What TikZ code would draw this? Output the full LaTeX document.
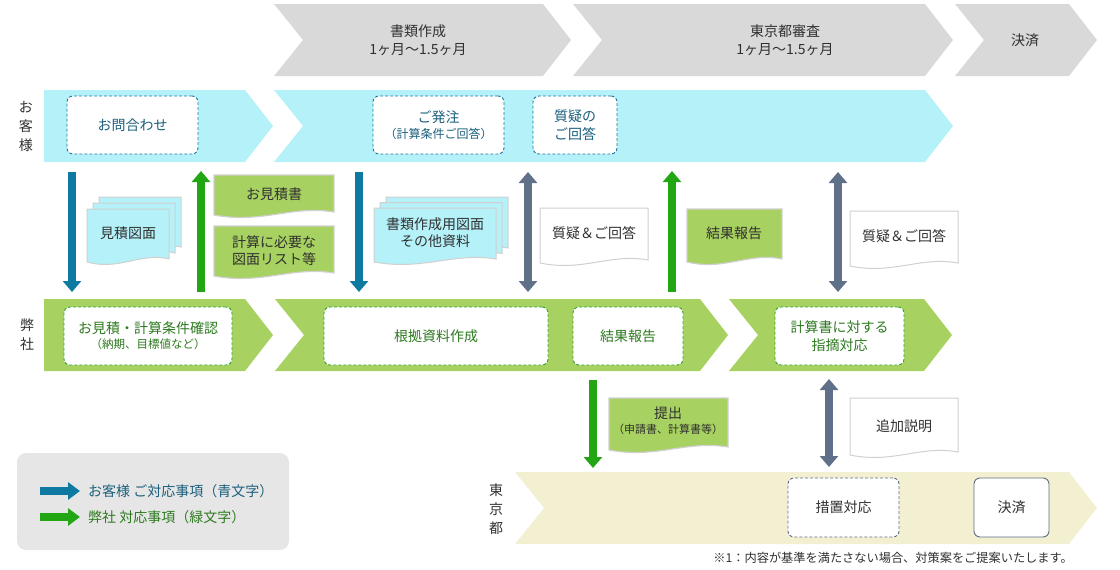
\documentclass[tikz,border=0pt]{standalone}
\usepackage{fontspec}
\setmainfont{Noto Sans CJK JP}
\usetikzlibrary{arrows.meta}
\definecolor{cgray}{HTML}{D9D9D9}
\definecolor{cbband}{HTML}{B5F1F8}
\definecolor{cgband}{HTML}{A7D160}
\definecolor{cyband}{HTML}{F3F0D2}
\definecolor{cbdash}{HTML}{1A779C}
\definecolor{tblue}{HTML}{1B5F7D}
\definecolor{cgdash}{HTML}{30A530}
\definecolor{tgreen}{HTML}{2E7A20}
\definecolor{abl}{HTML}{0E7AA2}
\definecolor{agr}{HTML}{22A614}
\definecolor{agy}{HTML}{607088}
\definecolor{ctdash}{HTML}{5E6D86}
\definecolor{tmain}{HTML}{303030}
\definecolor{cdocb}{HTML}{D0D0D0}
\definecolor{clegend}{HTML}{E6E6E6}
\newcommand{\chevflat}[5]{\fill[#1] (#2,#4) -- ({#3-28},#4) -- (#3,{(#4+#5)/2}) -- ({#3-28},#5) -- (#2,#5) -- cycle;}
\newcommand{\chevnotch}[5]{\fill[#1] (#2,#4) -- ({#3-28},#4) -- (#3,{(#4+#5)/2}) -- ({#3-28},#5) -- (#2,#5) -- ({#2+29},{(#4+#5)/2}) -- cycle;}
\newcommand{\docshape}[5]{\filldraw[#1] (#2,#3) -- ({#2+#4},#3) -- ({#2+#4},{#3+#5-3}) .. controls ({#2+0.65*#4},{#3+#5-10}) and ({#2+0.4*#4},{#3+#5+9}) .. (#2,{#3+#5}) -- cycle;}
\begin{document}
\begin{tikzpicture}[x=1pt,y=-1pt,
  every node/.style={font=\fontsize{14pt}{18pt}\selectfont, text=tmain, align=center, inner sep=0pt},
  bbox/.style={draw=cbdash, dash pattern=on 3pt off 2pt, line width=0.9pt, rounded corners=6pt, fill=white, text=tblue},
  gbox/.style={draw=cgdash, dash pattern=on 3pt off 2pt, line width=0.9pt, rounded corners=6pt, fill=white, text=tgreen},
  tbox/.style={draw=ctdash, dash pattern=on 3pt off 2pt, line width=0.9pt, rounded corners=6pt, fill=white},
  sbox/.style={draw=ctdash, line width=0.9pt, rounded corners=6pt, fill=white},
  wdoc/.style={fill=white, draw=cdocb, line width=1pt},
  bdoc/.style={fill=cbband, draw=cdocb, line width=1pt},
  gdoc/.style={fill=cgband, draw=cdocb, line width=1.2pt},
  varrow/.style={line width=8.5pt, -{Triangle[width=18pt,length=11pt]}},
  darrow/.style={line width=8.5pt, {Triangle[width=18pt,length=11pt]}-{Triangle[width=18pt,length=11pt]}},
  larrow/.style={line width=8pt, -{Triangle[width=17pt,length=12pt]}}
]
\useasboundingbox (0,0) rectangle (1120,570);

% phase chevrons
\chevnotch{cgray}{274}{571}{4}{76}
\chevnotch{cgray}{573}{953}{4}{76}
\chevnotch{cgray}{955}{1097}{4}{76}
\node (p1) at (418,40) {書類作成\\1ヶ月〜1.5ヶ月};
\node (p2) at (785,40) {東京都審査\\1ヶ月〜1.5ヶ月};
\node (p3) at (1025,40) {決済};

% bands
\chevflat{cbband}{44}{273}{90}{162}
\chevnotch{cbband}{274}{953}{90}{162}
\chevflat{cgband}{44}{273}{299}{371}
\chevnotch{cgband}{275}{728}{299}{371}
\chevnotch{cgband}{729}{952}{299}{371}
\chevnotch{cyband}{515}{1097}{472}{544}

% side labels
\node[font=\fontsize{14pt}{19pt}\selectfont] (s1) at (26,126) {お\\客\\様};
\node[font=\fontsize{14pt}{19pt}\selectfont] (s2) at (27,335) {弊\\社};
\node[font=\fontsize{14pt}{19pt}\selectfont] (s3) at (496,509) {東\\京\\都};

% customer boxes
\node[bbox, minimum width=131pt, minimum height=58pt] (c1) at (132.5,125) {お問合わせ};
\node[bbox, minimum width=131pt, minimum height=58pt] (c2) at (438.5,125) {ご発注\\[-2pt]{\fontsize{12pt}{13pt}\selectfont（計算条件ご回答）}};
\node[bbox, minimum width=84pt, minimum height=58pt] (c3) at (575,125) {質疑の\\ご回答};

% company boxes
\node[gbox, minimum width=168pt, minimum height=58pt] (g1) at (148,336) {お見積・計算条件確認\\[-3pt]{\fontsize{11.5pt}{13pt}\selectfont（納期、目標値など）}};
\node[gbox, minimum width=224pt, minimum height=58pt] (g2) at (436,336) {根拠資料作成};
\node[gbox, minimum width=110pt, minimum height=58pt] (g3) at (628,336) {結果報告};
\node[gbox, minimum width=129pt, minimum height=58pt] (g4) at (839.5,336) {計算書に対する\\指摘対応};

% tokyo boxes
\node[tbox, minimum width=111pt, minimum height=59pt] (t1) at (843.5,507.5) {措置対応};
\node[sbox, minimum width=75pt, minimum height=59pt] (t2) at (1011.5,507.5) {決済};

% documents
\docshape{bdoc}{99}{197}{82}{53}
\docshape{bdoc}{93}{203}{82}{53}
\docshape{bdoc}{87}{209}{82}{53}
\node (d1) at (128,233) {見積図面};
\docshape{gdoc}{214}{175}{120}{40}
\node (d2) at (274,194) {お見積書};
\docshape{gdoc}{214}{226}{120}{50}
\node[font=\fontsize{14pt}{17pt}\selectfont] (d3) at (274,251) {計算に必要な\\図面リスト等};
\docshape{bdoc}{386}{197}{122}{54}
\docshape{bdoc}{380}{202.5}{122}{54}
\docshape{bdoc}{374}{208}{122}{54}
\node[font=\fontsize{14pt}{17pt}\selectfont] (d4) at (435,233) {書類作成用図面\\その他資料};
\docshape{wdoc}{540}{208}{108}{55}
\node (d5) at (594,233) {質疑＆ご回答};
\docshape{gdoc}{687}{209}{95}{53}
\node (d6) at (734,233) {結果報告};
\docshape{wdoc}{850}{211}{108}{55}
\node (d7) at (904,236) {質疑＆ご回答};
\docshape{gdoc}{609}{398}{119}{52}
\node (d8) at (668,421) {提出\\[-3pt]{\fontsize{11pt}{13pt}\selectfont（申請書、計算書等）}};
\docshape{wdoc}{850}{398}{108}{57}
\node (d9) at (904,426) {追加説明};

% arrows
\coordinate (a1s) at (72,172);  \coordinate (a1e) at (72,292);
\coordinate (a2s) at (201,292); \coordinate (a2e) at (201,171);
\coordinate (a3s) at (359,172); \coordinate (a3e) at (359,292);
\coordinate (a4s) at (528,172); \coordinate (a4e) at (528,292);
\coordinate (a5s) at (672,292); \coordinate (a5e) at (672,171);
\coordinate (a6s) at (838,172); \coordinate (a6e) at (838,292);
\coordinate (a7s) at (593,380); \coordinate (a7e) at (593,468);
\coordinate (a8s) at (829,379); \coordinate (a8e) at (829,467);
\draw[varrow, abl] (a1s) -- (a1e);
\draw[varrow, agr] (a2s) -- (a2e);
\draw[varrow, abl] (a3s) -- (a3e);
\draw[darrow, agy] (a4s) -- (a4e);
\draw[varrow, agr] (a5s) -- (a5e);
\draw[darrow, agy] (a6s) -- (a6e);
\draw[varrow, agr] (a7s) -- (a7e);
\draw[darrow, agy] (a8s) -- (a8e);

% legend
\fill[clegend, rounded corners=9pt] (17,453) rectangle (289,550);
\coordinate (l1s) at (40,491); \coordinate (l1e) at (80,491);
\coordinate (l2s) at (40,517); \coordinate (l2e) at (80,517);
\draw[larrow, abl] (l1s) -- (l1e);
\draw[larrow, agr] (l2s) -- (l2e);
\node[anchor=west, text=tblue] (lg1) at (88,491) {お客様 ご対応事項（青文字）};
\node[anchor=west, text=tgreen] (lg2) at (88,517) {弊社 対応事項（緑文字）};

% footnote
\node[anchor=east, font=\fontsize{12.2pt}{14pt}\selectfont] (fn) at (1073,558) {※1：内容が基準を満たさない場合、対策案をご提案いたします。};
\end{tikzpicture}
\end{document}
